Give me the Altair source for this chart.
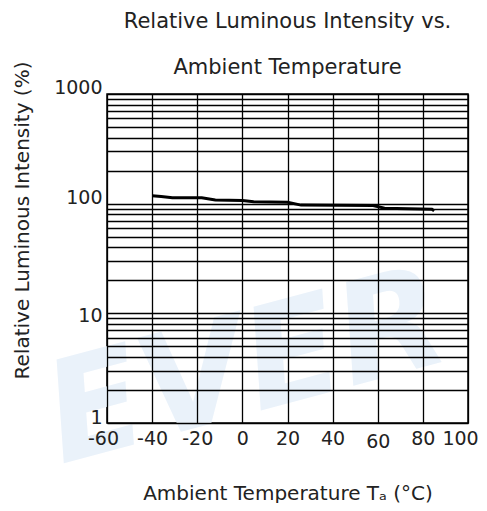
import altair as alt
import pandas as pd

# data
temps = [-40, -36, -31, -18, -12, 0, 5, 20, 26, 58, 63, 84, 85]
intensity = [118, 116, 113, 113, 108, 107, 104, 103, 97, 96, 91, 89, 86]

x_ticks = [-60, -40, -20, 0, 20, 40, 60, 80, 100]
y_grid = [m * d for d in [1, 10, 100] for m in range(1, 10)] + [1000]

FONT = "DejaVu Sans"
TXT = "#222222"

df = pd.DataFrame({"T": temps, "I": intensity})
wm = pd.DataFrame({"T": [2], "I": [3.0], "t": ["EVER"]})

xscale = alt.Scale(domain=[-60, 100], nice=False, zero=False)
yscale = alt.Scale(type="log", domain=[1, 1000], nice=False)

watermark = alt.Chart(wm).mark_text(
    font=FONT, fontSize=140, fontWeight="bold", fontStyle="italic",
    color="#eaf2fa", angle=345, align="center", baseline="middle",
).encode(
    x=alt.X("T:Q", scale=xscale),
    y=alt.Y("I:Q", scale=yscale),
    text="t:N",
)

line = alt.Chart(df).mark_line(color="black", strokeWidth=3).encode(
    x=alt.X(
        "T:Q", scale=xscale,
        axis=alt.Axis(
            values=x_ticks, title="Ambient Temperature Tₐ (°C)", grid=True,
            gridColor="black", gridWidth=1.3, gridOpacity=1, ticks=False, domain=False,
            labelExpr="'' + datum.value",
            labelFont=FONT, labelFontSize=19, labelColor=TXT,
            labelPadding={"expr": "datum.value == 60 ? 9 : 6"},
            labelOffset={"expr": "datum.value == 100 ? -8 : datum.value == -60 ? -4 : 0"},
            titleFont=FONT, titleFontSize=20, titleFontWeight="normal", titleColor=TXT,
            titlePadding=32, labelOverlap=False, labelFlush=False, labelBound=False, zindex=1,
        ),
    ),
    y=alt.Y(
        "I:Q", scale=yscale,
        axis=alt.Axis(
            values=y_grid, title="Relative Luminous Intensity  (%)", grid=True,
            gridColor="black", gridWidth=1.3, gridOpacity=1, ticks=False, domain=False,
            labelExpr="(datum.value == 1 || datum.value == 10 || datum.value == 100 || datum.value == 1000) ? format(datum.value, 'd') : ''",
            labelFont=FONT, labelFontSize=19, labelColor=TXT, labelPadding=5,
            labelOffset={"expr": "datum.value == 1000 ? -7 : datum.value == 100 ? -6 : datum.value == 10 ? 2 : -6"},
            labelOverlap=False, labelBound=False, labelFlush=False,
            titleFont=FONT, titleFontSize=20, titleFontWeight="normal", titleColor=TXT,
            titleX=-75, titleY=126, titleAngle=270, zindex=1,
        ),
    ),
)

chart = alt.layer(watermark, line).properties(
    width=361,
    height=329,
    autosize=alt.AutoSizeParams(type="none"),
    padding={"left": 99, "top": 86, "right": 11, "bottom": 80},
    title=alt.TitleParams(
        text=["Relative Luminous Intensity vs.", "Ambient Temperature"],
        font=FONT, fontSize=21, fontWeight="normal", color=TXT,
        lineHeight=46, anchor="middle", offset=-8, dy=12,
    ),
).configure_view(stroke="black", strokeWidth=1.5)

chart.save("out.html", embed_options={"renderer": "svg", "actions": False})
